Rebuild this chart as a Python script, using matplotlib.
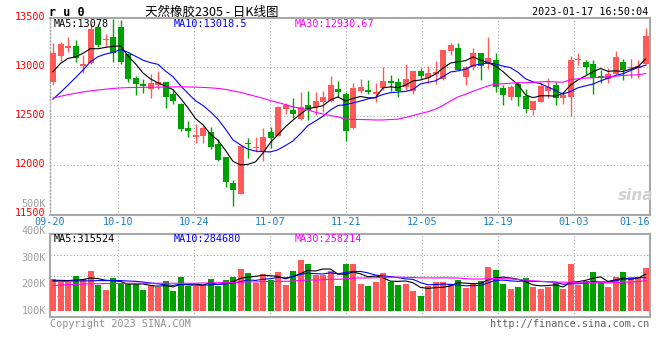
import matplotlib
matplotlib.use("Agg")
import matplotlib.pyplot as plt
import matplotlib.transforms as mtransforms
import numpy as np
import pandas as pd

plt.rcParams["font.family"] = ["DejaVu Sans Mono"]

# daily candles, ru0 (index 0 = 09-20, index 79 = 01-17)
open_ = [12841, 13105, 13195, 13210, 13012, 13041, 13399, 13270, 13301, 13402,
         13129, 12882, 12825, 12774, 12815, 12848, 12723, 12625, 12382, 12290,
         12300, 12341, 12213, 12081, 11817, 11709, 12229, 12172, 12131, 12341,
         12301, 12567, 12561, 12469, 12611, 12595, 12645, 12656, 12774, 12723,
         12375, 12750, 12764, 12720, 12781, 12855, 12845, 12797, 12755, 12956,
         12890, 12922, 12872, 13162, 13193, 12899, 12993, 13135, 13024, 13068,
         12781, 12689, 12821, 12703, 12561, 12645, 12757, 12814, 12680, 12696,
         13065, 13050, 13027, 12906, 12875, 12926, 13051, 12990, 12990, 13030]
close = [13142, 13230, 13205, 13085, 13020, 13382, 13220, 13278, 13135, 13044,
         12871, 12825, 12808, 12834, 12849, 12696, 12652, 12370, 12345, 12307,
         12378, 12182, 12055, 11834, 11749, 12196, 12212, 12182, 12287, 12280,
         12595, 12611, 12520, 12595, 12561, 12652, 12696, 12814, 12747, 12351,
         12784, 12794, 12747, 12747, 12856, 12835, 12755, 12875, 12958, 12906,
         12940, 12950, 13172, 13222, 12970, 12993, 13142, 13010, 13091, 12798,
         12713, 12798, 12696, 12568, 12656, 12808, 12798, 12679, 12710, 13070,
         13078, 13000, 12882, 12884, 12926, 13102, 12966, 13000, 13010, 13312]
high = [13237, 13254, 13305, 13271, 13119, 13440, 13430, 13331, 13480, 13473,
        13140, 12906, 12872, 12922, 12956, 12850, 12763, 12632, 12450, 12416,
        12400, 12385, 12270, 12088, 11851, 12200, 12280, 12290, 12375, 12385,
        12598, 12628, 12686, 12746, 12753, 12746, 12753, 12903, 12856, 12747,
        12830, 12875, 12870, 12830, 12994, 12916, 12882, 13024, 12958, 12987,
        13007, 13060, 13175, 13240, 13237, 13010, 13193, 13140, 13304, 13135,
        12814, 12814, 12848, 12770, 12656, 12831, 12882, 12848, 12745, 13110,
        13140, 13068, 13070, 12966, 12983, 13157, 13075, 13080, 13070, 13392]
low = [12814, 13061, 13146, 13051, 12933, 13024, 13196, 13210, 13051, 13027,
       12848, 12713, 12737, 12686, 12771, 12584, 12618, 12348, 12290, 12230,
       12230, 12165, 12040, 11783, 11590, 11705, 12077, 12131, 12047, 12179,
       12298, 12520, 12476, 12459, 12459, 12510, 12544, 12640, 12696, 12250,
       12368, 12730, 12720, 12640, 12764, 12750, 12696, 12764, 12727, 12877,
       12840, 12821, 12870, 13115, 12966, 12814, 12966, 12865, 12973, 12747,
       12612, 12662, 12601, 12527, 12510, 12645, 12679, 12612, 12620, 12502,
       13020, 12930, 12725, 12840, 12840, 12924, 12862, 12886, 12890, 13020]
vol_k = [220, 208, 210, 231, 220, 250, 197, 179, 223, 204,
         201, 200, 179, 195, 190, 213, 175, 226, 195, 195,
         195, 220, 192, 216, 226, 258, 244, 205, 239, 215,
         247, 197, 250, 291, 276, 235, 235, 250, 194, 276,
         276, 201, 194, 210, 244, 210, 198, 201, 176, 156,
         194, 210, 210, 201, 216, 185, 201, 214, 266, 254,
         201, 183, 190, 224, 191, 183, 189, 204, 183, 276,
         198, 213, 245, 208, 190, 229, 245, 226, 226, 263]

# moving averages before enough history is on the chart
ma5_head = [12950, 13034, 13085, 13100]
ma10_head = [12672, 12740, 12814, 12889, 12967, 13051, 13102, 13129, 13146]
ma30_head = [12683, 12700, 12717, 12731, 12744, 12755, 12764, 12772, 12780, 12785,
             12788, 12790, 12791, 12792, 12793, 12794, 12795, 12796, 12795, 12793,
             12790, 12786, 12780, 12770, 12755, 12740, 12720, 12700, 12680]
vma5_head = [215, 215, 214, 216]
vma10_head = [212, 212, 212, 213, 213, 213, 214, 214, 214]
vma30_head = [195, 197, 199, 200, 201, 202, 202, 203, 203, 203,
              204, 204, 204, 204, 204, 204, 204, 204, 204, 204,
              205, 205, 206, 207, 207, 208, 209, 209, 210]

date_labels = ["09-20", "10-10", "10-24", "11-07", "11-21", "12-05", "12-19", "01-03", "01-16"]
date_idx = [0, 9, 19, 29, 39, 49, 59, 69, 78]
price_ticks = [11500, 12000, 12500, 13000, 13500]
vol_labels = ["500K", "400K", "300K", "200K", "100K"]
vol_label_vals = [500, 400, 300, 200, 100]
ma_price_text = ["MA5:13078", "MA10:13018.5", "MA30:12930.67"]
ma_vol_text = ["MA5:315524", "MA10:284680", "MA30:258214"]

RED = "#ff5a5a"
GREEN = "#00a000"
MA_COLORS = ["black", "#0000ff", "#ff00ff"]
GRAY = "#a8a8a8"


def moving_avg(values, window, head):
    ma = pd.Series(values, dtype=float).rolling(window).mean().to_numpy()
    ma[:window - 1] = head
    return ma


o = np.array(open_, dtype=float)
c = np.array(close, dtype=float)
n = len(c)
idx = np.arange(n)
up = c >= o
colors = np.where(up, RED, GREEN)

W, H = 660, 360
fig = plt.figure(figsize=(W / 100, H / 100), dpi=100)


def px_axes(x0, y0, x1, y1):
    return fig.add_axes([x0 / W, 1 - y1 / H, (x1 - x0) / W, (y1 - y0) / H])


def fig_text(x, y, s, **kw):
    return fig.text(x / W, 1 - y / H, s, **kw)


ax = px_axes(50, 17.5, 650, 214.5)
axv = px_axes(50, 234, 650, 317)

# --- price panel
body = np.maximum(np.abs(c - o), 12)
ax.vlines(idx + 0.4, low, high, colors=colors, lw=1, zorder=3)
ax.bar(idx, body, bottom=np.minimum(o, c), width=0.8, align="edge",
       color=colors, linewidth=0, zorder=4)

for ma, col in zip([moving_avg(c, 5, ma5_head), moving_avg(c, 10, ma10_head),
                    moving_avg(c, 30, ma30_head)], MA_COLORS):
    ax.plot(idx + 0.4, ma, color=col, lw=0.8, zorder=5)

ax.set_xlim(0, n)
ax.set_ylim(price_ticks[0], price_ticks[-1])
ax.set_yticks(price_ticks)
ax.set_yticklabels([str(t) for t in price_ticks])
ax.tick_params(axis="y", length=0, pad=3.5, labelsize=7.3, labelcolor="red")
# the price labels sit a little above their lines
lift = mtransforms.ScaledTranslation(0, 2 / 100, fig.dpi_scale_trans)
for lbl in ax.get_yticklabels():
    lbl.set_transform(lbl.get_transform() + lift)

# sina places its grid as if the last bar sat on the right edge
grid_pos = np.array(date_idx) * n / (n - 1)
for a in (ax, axv):
    a.set_xticks(grid_pos[1:-1])
    a.set_xticklabels([])
    a.tick_params(axis="x", length=0)
    a.grid(True, color=GRAY, ls=(0, (1, 2)), lw=0.8)
    a.set_axisbelow(True)
    for s in a.spines.values():
        s.set_color(GRAY)
        s.set_linewidth(1.5)
ax.spines["left"].set_linestyle((0, (1, 1.5)))
ax.spines["left"].set_linewidth(1)

xt = mtransforms.blended_transform_factory(ax.transData, ax.transAxes)
for k, (lbl, pos) in enumerate(zip(date_labels, grid_pos)):
    last = k == len(date_labels) - 1
    ax.text(n if last else pos, -0.04, lbl, transform=xt,
            ha="right" if last else "center", va="center",
            color="#1a80c8", fontsize=7.3)

# --- volume panel
vol = np.array(vol_k, dtype=float)
vol_base = 100
axv.bar(idx, vol - vol_base, bottom=vol_base, width=0.8, align="edge",
        color=colors, linewidth=0, zorder=3)
for ma, col in zip([moving_avg(vol, 5, vma5_head), moving_avg(vol, 10, vma10_head),
                    moving_avg(vol, 30, vma30_head)], MA_COLORS):
    axv.plot(idx + 0.4, ma, color=col, lw=0.8, zorder=5)

axv.set_xlim(0, n)
vlo, vhi = 77.5, 388.75
axv.set_ylim(vlo, vhi)
axv.set_yticks(np.linspace(vlo, vhi, 5)[1:-1])
axv.set_yticklabels([])
axv.tick_params(axis="y", length=0)

yt = mtransforms.blended_transform_factory(axv.transAxes, axv.transData)
for lbl, v in zip(vol_labels, vol_label_vals):
    axv.text(-0.007, v, lbl, transform=yt, ha="right", va="center",
             color="#a0a0a0", fontsize=7.3)

# --- texts
fig_text(49, 12, "r u 0", fontsize=8.5, fontweight="bold", va="center", ha="left")
fig_text(212, 12, "天然橡胶2305 - 日K线图", fontsize=9, va="center", ha="center",
         family=["Noto Sans CJK SC", "DejaVu Sans"])
fig_text(648, 12, "2023-01-17 16:50:04", fontsize=7.3, va="center", ha="right")

for txt, col, x in zip(ma_price_text, MA_COLORS, [54, 174, 295]):
    fig_text(x, 24, txt, color=col, fontsize=7.3, va="center", ha="left")
for txt, col, x in zip(ma_vol_text, MA_COLORS, [54, 174, 295]):
    fig_text(x, 238.5, txt, color=col, fontsize=7.3, va="center", ha="left")

fig_text(636, 196, "sina", fontsize=11, fontweight="bold", style="italic",
         color="#d0d0d0", va="center", ha="center", family=["DejaVu Sans"])
fig_text(50, 324, "Copyright 2023 SINA.COM", fontsize=7.3, color="#909090",
         va="center", ha="left")
fig_text(649, 324, "http://finance.sina.com.cn", fontsize=7.3, color="#606060",
         va="center", ha="right")

fig.savefig("out.png", dpi=100, facecolor="white")
